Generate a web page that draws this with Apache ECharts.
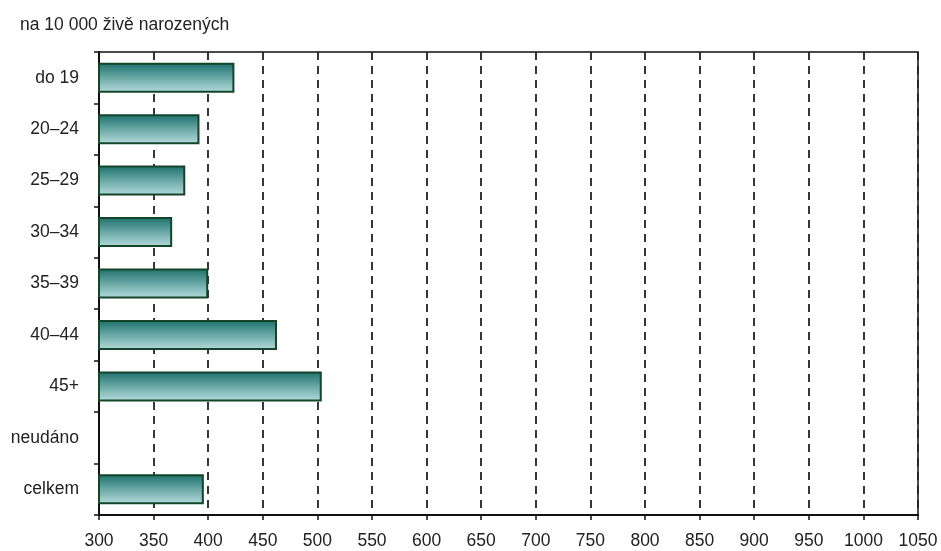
<!DOCTYPE html>
<html><head><meta charset="utf-8">
<script src="https://cdn.jsdelivr.net/npm/echarts@6/dist/echarts.min.js"></script>
<style>html,body{margin:0;padding:0;background:#fff}#c{width:941px;height:551px}</style>
</head><body><div id="c"></div>
<script>
const categories = ['do 19','20–24','25–29','30–34','35–39','40–44','45+','neudáno','celkem'];
const values = [424, 392, 379, 367, 400, 463, 504, 300, 396];
const axisMin = 300, axisMax = 1050, axisStep = 50;
const unitLabel = 'na 10 000 živě narozených';

const chart = echarts.init(document.getElementById('c'));
const font = '"Liberation Sans", Arial, sans-serif';
chart.setOption({
  animation: false,
  backgroundColor: '#fff',
  title: { text: unitLabel, left: 15, top: 11, textStyle: { fontFamily: font, fontSize: 17.5, fontWeight: 'normal', color: '#222' } },
  grid: { left: 99, right: 23, top: 52, bottom: 36, outerBoundsMode: 'none', containLabel: false, show: true, borderColor: '#111', borderWidth: 1.5, backgroundColor: 'transparent' },
  xAxis: {
    type: 'value', min: axisMin, max: axisMax, interval: axisStep,
    axisLine: { show: true, lineStyle: { color: '#111', width: 2 } },
    axisTick: { show: true, length: 5, lineStyle: { color: '#111', width: 1.5 } },
    axisLabel: { fontFamily: font, fontSize: 17.5, color: '#222', margin: 17, formatter: v => String(v) },
    splitLine: { show: true, lineStyle: { color: '#222', width: 1.8, type: [8, 6] } }
  },
  yAxis: {
    type: 'category', data: categories, inverse: true,
    axisLine: { show: true, lineStyle: { color: '#111', width: 2 } },
    axisTick: { show: true, length: 5, lineStyle: { color: '#111', width: 1.5 } },
    axisLabel: { fontFamily: font, fontSize: 17.5, color: '#222', margin: 20 }
  },
  series: [{
    type: 'bar', data: values, barWidth: 30,
    itemStyle: {
      borderColor: '#13452a', borderWidth: 2,
      color: new echarts.graphic.LinearGradient(0, 0, 0, 1, [
        { offset: 0, color: '#1b6f6b' },
        { offset: 0.5, color: '#6aa8a6' },
        { offset: 1, color: '#b6dcdc' }
      ])
    }
  }]
});
</script></body></html>
